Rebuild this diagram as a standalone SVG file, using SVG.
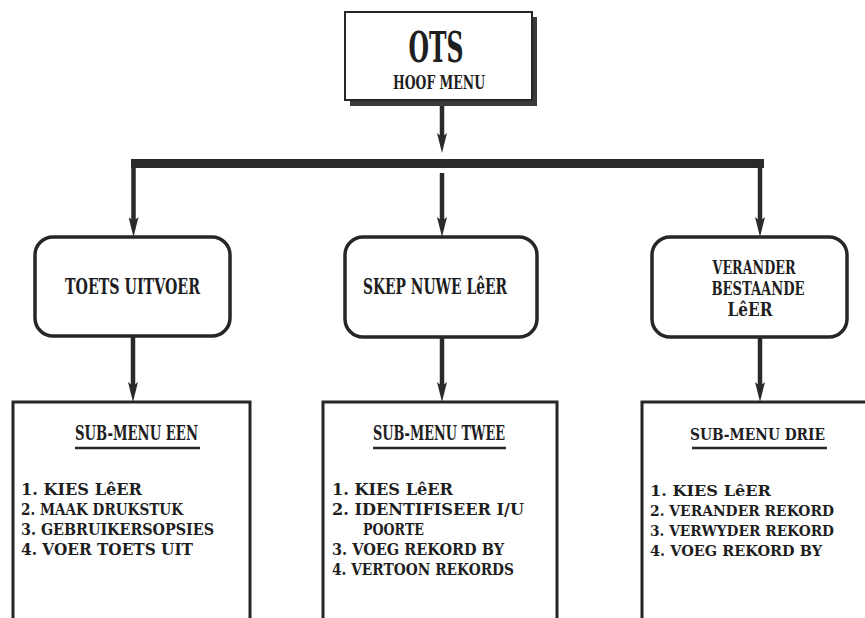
<svg xmlns="http://www.w3.org/2000/svg" width="865" height="618" viewBox="0 0 865 618">
<style>
.bg{fill:#ffffff}
.t{font-family:"DejaVu Serif","Liberation Serif",serif;font-weight:bold;fill:#1e1e1e;font-size:17px}
.m{font-size:22px}
.v{font-size:18px}
.s{font-size:20px}
.s3{font-size:17.5px}
.l3{font-size:15.5px}
.h{font-size:18px}
.big{font-size:42px}
.c{text-anchor:middle}
.box{fill:#ffffff;stroke:#262626;stroke-width:3}
.rbox{fill:#ffffff;stroke:#262626;stroke-width:3.5}
.ln{fill:none;stroke:#2a2a2a;stroke-width:4.5}
.bar{fill:none;stroke:#2a2a2a;stroke-width:9}
.ul{stroke:#2a2a2a;stroke-width:2.5}
.shadow{fill:#3a3a3a}
</style>
<defs>
<marker id="ah" viewBox="0 0 20 10" refX="5" refY="5" markerWidth="20" markerHeight="10" orient="auto" markerUnits="userSpaceOnUse">
<path d="M0,0 L20,5 L0,10 L4,5 z" fill="#2a2a2a"/>
</marker>
</defs>
<rect class="bg" x="0" y="0" width="865" height="618"/>

<g id="connectors">
<path class="ln" d="M442,101 V138" marker-end="url(#ah)"/>
<path class="bar" d="M131,163.5 H764"/>
<path class="ln" d="M133.5,160 V222" marker-end="url(#ah)"/>
<path class="ln" d="M442,173 V222" marker-end="url(#ah)"/>
<path class="ln" d="M760,160 V222" marker-end="url(#ah)"/>
<path class="ln" d="M133,337 V387" marker-end="url(#ah)"/>
<path class="ln" d="M442,337 V387" marker-end="url(#ah)"/>
<path class="ln" d="M760,337 V387" marker-end="url(#ah)"/>
</g>

<g id="hoofmenu">
<rect class="shadow" x="350" y="17" width="187" height="89"/>
<rect x="345" y="12" width="187" height="88" fill="#ffffff" stroke="#262626" stroke-width="2"/>
<text class="t big c" x="436" y="62" textLength="55" lengthAdjust="spacingAndGlyphs">OTS</text>
<text class="t h c" x="439" y="89" textLength="92" lengthAdjust="spacingAndGlyphs">HOOF MENU</text>
</g>

<g id="toets">
<rect class="rbox" x="35" y="237" width="195" height="99" rx="18"/>
<text class="t m c" x="132.5" y="294" textLength="135" lengthAdjust="spacingAndGlyphs">TOETS UITVOER</text>
</g>

<g id="skep">
<rect class="rbox" x="345" y="237" width="192" height="100" rx="18"/>
<text class="t m c" x="435" y="294" textLength="144" lengthAdjust="spacingAndGlyphs">SKEP NUWE LêER</text>
</g>

<g id="verander">
<rect class="rbox" x="652" y="237" width="195" height="100" rx="18"/>
<text class="t v c" x="754" y="274" textLength="83" lengthAdjust="spacingAndGlyphs">VERANDER</text>
<text class="t v c" x="758" y="295" textLength="93" lengthAdjust="spacingAndGlyphs">BESTAANDE</text>
<text class="t v c" x="750" y="316" textLength="45" lengthAdjust="spacingAndGlyphs">LêER</text>
</g>

<g id="submenu1">
<rect class="box" x="13" y="402" width="237" height="225"/>
<text class="t s" x="75" y="440" textLength="123" lengthAdjust="spacingAndGlyphs">SUB-MENU EEN</text>
<line class="ul" x1="75" y1="448" x2="200" y2="448"/>
<text class="t" x="21" y="495" textLength="121" lengthAdjust="spacingAndGlyphs">1. KIES LêER</text>
<text class="t" x="21" y="515" textLength="162" lengthAdjust="spacingAndGlyphs">2. MAAK DRUKSTUK</text>
<text class="t" x="21" y="535" textLength="193" lengthAdjust="spacingAndGlyphs">3. GEBRUIKERSOPSIES</text>
<text class="t" x="21" y="555" textLength="172" lengthAdjust="spacingAndGlyphs">4. VOER TOETS UIT</text>
</g>

<g id="submenu2">
<rect class="box" x="323" y="402" width="234" height="225"/>
<text class="t s" x="373" y="440" textLength="132" lengthAdjust="spacingAndGlyphs">SUB-MENU TWEE</text>
<line class="ul" x1="373" y1="448" x2="506" y2="448"/>
<text class="t" x="332" y="495" textLength="121" lengthAdjust="spacingAndGlyphs">1. KIES LêER</text>
<text class="t" x="332" y="515" textLength="192" lengthAdjust="spacingAndGlyphs">2. IDENTIFISEER I/U</text>
<text class="t" x="363" y="535" textLength="61" lengthAdjust="spacingAndGlyphs">POORTE</text>
<text class="t" x="332" y="555" textLength="172" lengthAdjust="spacingAndGlyphs">3. VOEG REKORD BY</text>
<text class="t" x="332" y="575" textLength="182" lengthAdjust="spacingAndGlyphs">4. VERTOON REKORDS</text>
</g>

<g id="submenu3">
<rect class="box" x="642" y="402" width="225" height="225"/>
<text class="t s3" x="690" y="440" textLength="135" lengthAdjust="spacingAndGlyphs">SUB-MENU DRIE</text>
<line class="ul" x1="692" y1="448" x2="827" y2="448"/>
<text class="t l3" x="650" y="496" textLength="121" lengthAdjust="spacingAndGlyphs">1. KIES LêER</text>
<text class="t l3" x="650" y="516" textLength="184" lengthAdjust="spacingAndGlyphs">2. VERANDER REKORD</text>
<text class="t l3" x="650" y="536" textLength="184" lengthAdjust="spacingAndGlyphs">3. VERWYDER REKORD</text>
<text class="t l3" x="650" y="556" textLength="172" lengthAdjust="spacingAndGlyphs">4. VOEG REKORD BY</text>
</g>
</svg>
